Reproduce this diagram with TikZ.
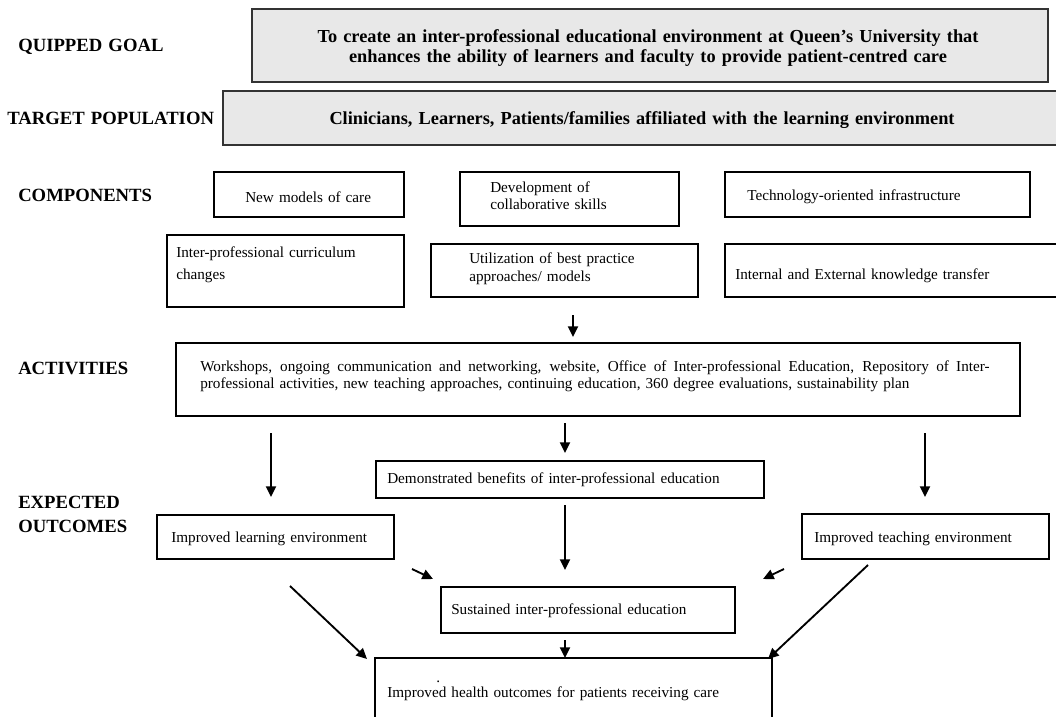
\documentclass[tikz,border=0pt]{standalone}
\usepackage{fontspec}
\setmainfont{Liberation Serif}
\usetikzlibrary{arrows.meta,fit}
\begin{document}
\begin{tikzpicture}[x=0.75pt,y=-0.75pt,
  box/.style={draw=black,line width=0.9pt,inner sep=0pt},
  graybox/.style={draw=black!80,fill=black!9,line width=1pt,inner sep=0pt},
  body/.style={font=\fontsize{11.4}{13.7}\selectfont,inner sep=0pt,anchor=base west,align=left,text width=#1},
  body/.default=400pt,
  head/.style={font=\bfseries\fontsize{14}{17}\selectfont,inner sep=0pt,anchor=base west,align=left,text width=200pt},
  boldtxt/.style={font=\bfseries\fontsize{13.75}{15}\selectfont,inner sep=0pt,anchor=base,align=center,text width=620pt},
  arr/.style={-{Triangle[width=7.5pt,length=8pt]},line width=1.4pt}
]
\useasboundingbox (0,0) rectangle (1056,717);
\fill[white] (0,0) rectangle (1056,717);

% headings
\node[head] (hgoal) at (18,52) {QUIPPED GOAL};
\node[head] (htarget) at (7,124) {TARGET POPULATION};
\node[head] (hcomp) at (18,201) {COMPONENTS};
\node[head] (hact) at (18,374) {ACTIVITIES};
\node[head,font=\bfseries\fontsize{14}{18}\selectfont] (hout) at (18,508) {EXPECTED\\OUTCOMES};

% goal and target
\node[graybox, fit={(252,9) (1048,82)}] (goal) {};
\node[boldtxt] (goaltxt) at (648,43) {To create an inter-professional educational environment at Queen’s University that\\enhances the ability of learners and faculty to provide patient-centred care};
\node[graybox, fit={(223,91) (1057,145)}] (target) {};
\node[boldtxt] (targettxt) at (642,124) {Clinicians, Learners, Patients/families affiliated with the learning environment};

% components
\node[box, fit={(214,172) (404,217)}] (new) {};
\node[body] (newtxt) at (245,202) {New models of care};
\node[box, fit={(460,172) (679,226)}] (dev) {};
\node[body,font=\fontsize{11.4}{12.75}\selectfont] (devtxt) at (490,192.5) {Development of\\collaborative skills};
\node[box, fit={(725,172) (1030,217)}] (tech) {};
\node[body] (techtxt) at (747,200.5) {Technology-oriented infrastructure};
\node[box, fit={(167,235) (404,307)}] (inter) {};
\node[body,font=\fontsize{11.4}{16.5}\selectfont] (intertxt) at (176,257.5) {Inter-professional curriculum\\changes};
\node[box, fit={(431,244) (698,297)}] (util) {};
\node[body,font=\fontsize{11.4}{13.5}\selectfont] (utiltxt) at (469,263.5) {Utilization of best practice\\approaches/ models};
\node[box, fit={(725,244) (1057,297)}] (know) {};
\node[body] (knowtxt) at (735,279.5) {Internal and External knowledge transfer};

% activities
\node[box, fit={(176,343) (1020,416)}] (act) {};
\node[body=700pt,font=\fontsize{11.4}{13}\selectfont] (acttxt) at (200,371) {\hbox to 592pt{\spaceskip=0.25em plus 1em minus 0.05em\relax Workshops, ongoing communication and networking, website, Office of Inter-professional Education, Repository of Inter-}\\professional activities, new teaching approaches, continuing education, 360 degree evaluations, sustainability plan};

% outcomes
\node[box, fit={(376,461) (764,498)}] (demo) {};
\node[body] (demotxt) at (387,483.5) {Demonstrated benefits of inter-professional education};
\node[box, fit={(157,515) (394,559)}] (learn) {};
\node[body] (learntxt) at (171,542.5) {Improved learning environment};
\node[box, fit={(802,514) (1049,559)}] (teach) {};
\node[body] (teachtxt) at (814,542.5) {Improved teaching environment};
\node[box, fit={(441,587) (735,633)}] (sust) {};
\node[body] (susttxt) at (451,614.5) {Sustained inter-professional education};
\node[box, fit={(375,658) (772,730)}] (health) {};
\node[body] (dot) at (436,682) {.};
\node[body] (healthtxt) at (387,697.5) {Improved health outcomes for patients receiving care};

% arrow end points
\coordinate (a1s) at (573,315); \coordinate (a1e) at (573,337);
\coordinate (a2s) at (271,433); \coordinate (a2e) at (271,497);
\coordinate (a3s) at (565,423); \coordinate (a3e) at (565,453);
\coordinate (a4s) at (925,433); \coordinate (a4e) at (925,497);
\coordinate (a5s) at (565,505); \coordinate (a5e) at (565,570);
\coordinate (a6s) at (412,569); \coordinate (a6e) at (433,579);
\coordinate (a7s) at (784,569); \coordinate (a7e) at (763,579);
\coordinate (a8s) at (290,586); \coordinate (a8e) at (367,659);
\coordinate (a9s) at (868,565); \coordinate (a9e) at (768,659);
\coordinate (a10s) at (565,640); \coordinate (a10e) at (565,658);

\draw[arr] (a1s) -- (a1e);
\draw[arr] (a2s) -- (a2e);
\draw[arr] (a3s) -- (a3e);
\draw[arr] (a4s) -- (a4e);
\draw[arr] (a5s) -- (a5e);
\draw[arr] (a6s) -- (a6e);
\draw[arr] (a7s) -- (a7e);
\draw[arr] (a8s) -- (a8e);
\draw[arr] (a9s) -- (a9e);
\draw[arr] (a10s) -- (a10e);
\end{tikzpicture}
\end{document}
